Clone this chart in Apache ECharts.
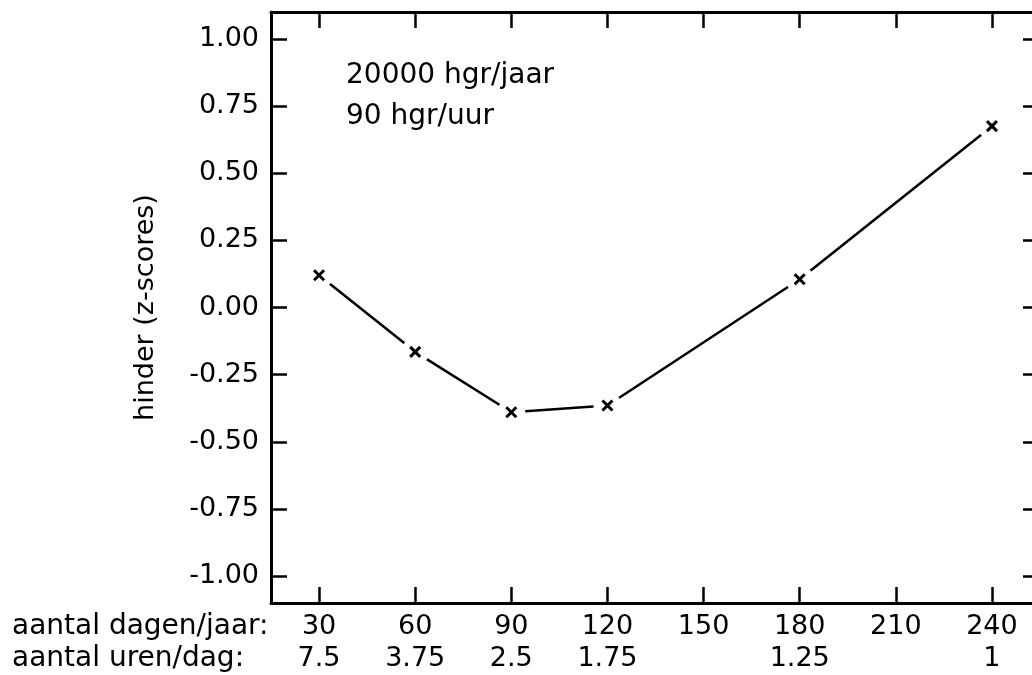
<!DOCTYPE html>
<html>
<head>
<meta charset="utf-8">
<script src="https://cdn.jsdelivr.net/npm/echarts@6/dist/echarts.min.js"></script>
<style>html,body{margin:0;padding:0;background:#fff;}#c{width:1032px;height:675px;}</style>
</head>
<body>
<div id="c"></div>
<script>
// data
var days = [30, 60, 90, 120, 180, 240];
var hinder = [0.12, -0.165, -0.39, -0.365, 0.105, 0.675];
var xTicks = [30, 60, 90, 120, 150, 180, 210, 240];
var hourLabels = {30: '7.5', 60: '3.75', 90: '2.5', 120: '1.75', 180: '1.25', 240: '1'};
var yTicks = [-1, -0.75, -0.5, -0.25, 0, 0.25, 0.5, 0.75, 1];
var rowLabels = ['aantal dagen/jaar:', 'aantal uren/dag:'];
var annotation = ['20000 hgr/jaar', '90 hgr/uur'];

var FONT = 'DejaVu Sans';
var pts = days.map(function (d, i) { return [d, hinder[i]]; });
var axLine = {show: true, onZero: false, lineStyle: {color: '#000', width: 3}};
var tick = {show: true, inside: true, length: 16, lineStyle: {color: '#000', width: 2.5}};

var chart = echarts.init(document.getElementById('c'));
chart.setOption({
  animation: false,
  backgroundColor: '#fff',
  grid: {left: 271, top: 12, right: 0, bottom: 71, show: false},
  xAxis: [{
    type: 'value', min: 15, max: 252.5, position: 'bottom',
    axisLine: axLine,
    axisTick: Object.assign({customValues: xTicks}, tick),
    splitLine: {show: false},
    axisLabel: {
      customValues: xTicks, color: '#000', fontFamily: FONT, fontSize: 27,
      lineHeight: 32, margin: 8,
      formatter: function (v) { return v + '\n' + (hourLabels[v] || ' '); }
    }
  }, {
    type: 'value', min: 15, max: 252.5, position: 'top',
    axisLine: axLine,
    axisTick: Object.assign({customValues: xTicks}, tick),
    splitLine: {show: false}, axisLabel: {show: false}
  }],
  yAxis: [{
    type: 'value', min: -1.1, max: 1.1, position: 'left',
    name: 'hinder (z-scores)', nameLocation: 'middle', nameGap: 112,
    nameTextStyle: {color: '#000', fontFamily: FONT, fontSize: 27},
    axisLine: axLine,
    axisTick: Object.assign({customValues: yTicks}, tick),
    splitLine: {show: false},
    axisLabel: {
      customValues: yTicks, color: '#000', fontFamily: FONT, fontSize: 27, margin: 12,
      formatter: function (v) { return v.toFixed(2); }
    }
  }, {
    type: 'value', min: -1.1, max: 1.1, position: 'right',
    axisLine: {show: false},
    axisTick: {show: true, inside: true, length: 9, customValues: yTicks, lineStyle: {color: '#000', width: 2.5}},
    splitLine: {show: false}, axisLabel: {show: false}
  }],
  series: [{
    type: 'line', data: pts, showSymbol: false, symbol: 'none',
    lineStyle: {color: '#000', width: 2.5}, z: 1
  }, {
    type: 'scatter', data: pts, symbol: 'circle', symbolSize: 28,
    itemStyle: {color: '#ffffff', opacity: 1}, z: 5
  }, {
    type: 'scatter', data: pts,
    symbol: 'path://M0,0L10,10M10,0L0,10', symbolSize: 10,
    itemStyle: {color: 'none', borderColor: '#000', borderWidth: 3, opacity: 1}, z: 6
  }],
  graphic: [
    {type: 'text', left: 346, top: 62, style: {text: annotation[0], fill: '#000', font: '28px "DejaVu Sans"'}},
    {type: 'text', left: 346, top: 103, style: {text: annotation[1], fill: '#000', font: '28px "DejaVu Sans"'}},
    {type: 'text', left: 12, top: 613, style: {text: rowLabels[0], fill: '#000', font: '28px "DejaVu Sans"'}},
    {type: 'text', left: 12, top: 645, style: {text: rowLabels[1], fill: '#000', font: '28px "DejaVu Sans"'}}
  ]
});
</script>
</body>
</html>
